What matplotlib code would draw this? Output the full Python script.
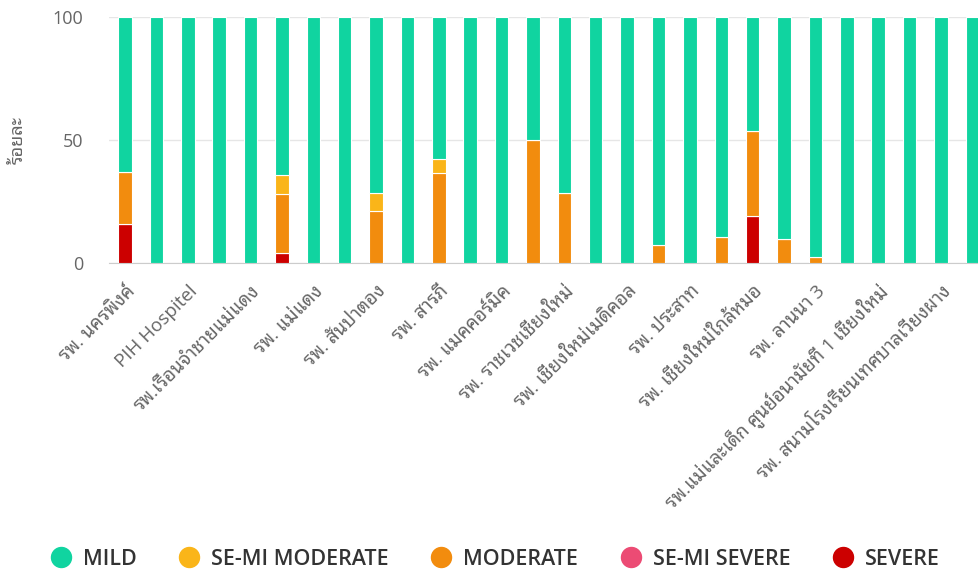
import matplotlib
matplotlib.use('Agg')
import matplotlib.pyplot as plt
import matplotlib.transforms as mtransforms
from matplotlib import font_manager
from matplotlib.lines import Line2D
import numpy as np

# per-hospital share (%) of each severity level, 28 hospitals (only every 2nd is labelled)
tick_labels = ['รพ. นครพิงค์', 'PIH Hospitel', 'รพ.เรือนจำชายแม่แดง', 'รพ. แม่แดง',
               'รพ. สันป่าตอง', 'รพ. สารภี', 'รพ. แมคคอร์มิค', 'รพ. ราชเวชเชียงใหม่',
               'รพ. เชียงใหม่เมดิคอล', 'รพ. ประสาท', 'รพ. เชียงใหม่ใกล้หมอ', 'รพ. ลานนา 3',
               'รพ.แม่และเด็ก ศูนย์อนามัยที่ 1 เชียงใหม่', 'รพ. สนามโรงเรียนเทศบาลเวียงผาง']
severe = [16, 0, 0, 0, 0, 4, 0, 0, 0, 0, 0, 0, 0, 0,
          0, 0, 0, 0, 0, 0, 19, 0, 0, 0, 0, 0, 0, 0]
semi_severe = [0] * 28
moderate = [21, 0, 0, 0, 0, 24, 0, 0, 21.4, 0, 36.8, 0, 0, 50,
            28.6, 0, 0, 7.4, 0, 10.5, 34.5, 9.7, 2.4, 0, 0, 0, 0, 0]
semi_moderate = [0, 0, 0, 0, 0, 8, 0, 0, 7.1, 0, 5.3, 0, 0, 0,
                 0, 0, 0, 0, 0, 0, 0, 0, 0, 0, 0, 0, 0, 0]
mild = [100 - a - b - c - d for a, b, c, d in zip(severe, semi_severe, moderate, semi_moderate)]

series = [('SEVERE', severe, '#cc0000'),
          ('SE-MI SEVERE', semi_severe, '#ec4b74'),
          ('MODERATE', moderate, '#f28c0e'),
          ('SE-MI MODERATE', semi_moderate, '#fab519'),
          ('MILD', mild, '#10d4a0')]


def pick(names):
    have = set(f.name for f in font_manager.fontManager.ttflist)
    return [n for n in names if n in have] + ['DejaVu Sans']


plt.rcParams['font.family'] = pick(['Open Sans', 'Noto Sans Thai Looped', 'Sarabun',
                                    'Noto Sans Thai', 'Anuphan'])

fig = plt.figure(figsize=(9.79, 5.71), dpi=100)
ax = fig.add_axes([109.3 / 979, 1 - 263.3 / 571, (988 - 109.3) / 979, (263.3 - 16.7) / 571])

x = np.arange(len(mild))
bottom = np.zeros(len(mild))
for name, vals, col in series:
    vals = np.array(vals, dtype=float)
    ax.bar(x, vals, bottom=bottom, width=0.43, color=col, edgecolor='white',
           linewidth=0.8, zorder=3)
    bottom += vals

ax.set_xlim(-0.5, len(mild) - 0.5)
ax.set_ylim(0, 100)
ax.set_yticks([0, 50, 100])
ax.yaxis.grid(True, color='#e6e6e6', linewidth=1, zorder=0)
for s in ['top', 'right', 'left']:
    ax.spines[s].set_visible(False)
ax.spines['bottom'].set_color('#cccccc')
ax.tick_params(axis='y', length=0, pad=19, labelsize=13, labelcolor='#666666')
ax.tick_params(axis='x', length=0, pad=18)
ax.set_xticks(x[::2])
ax.set_xticklabels(tick_labels, rotation=45, ha='right', va='center',
                   rotation_mode='anchor', fontsize=13.5, color='#666666')
shift = mtransforms.ScaledTranslation(0.07, 0, fig.dpi_scale_trans)
for lab in ax.get_xticklabels():
    lab.set_transform(lab.get_transform() + shift)
ax.set_ylabel('ร้อยละ', fontsize=13, color='#666666')
ax.yaxis.set_label_coords(-0.094, 0.5)

handles = [Line2D([], [], marker='o', linestyle='', markersize=14.4, color=col)
           for name, vals, col in series[::-1]]
labels = [name for name, vals, col in series[::-1]]
fig.legend(handles, labels, loc='center', bbox_to_anchor=(0.5056, 0.021),
           ncol=5, frameon=False, handlelength=1.0, handletextpad=0.52,
           columnspacing=1.94, borderaxespad=0,
           prop={'family': pick(['Open Sans']), 'size': 15.5, 'weight': 'semibold'},
           labelcolor='#333333')

fig.savefig('out.png', dpi=100)
